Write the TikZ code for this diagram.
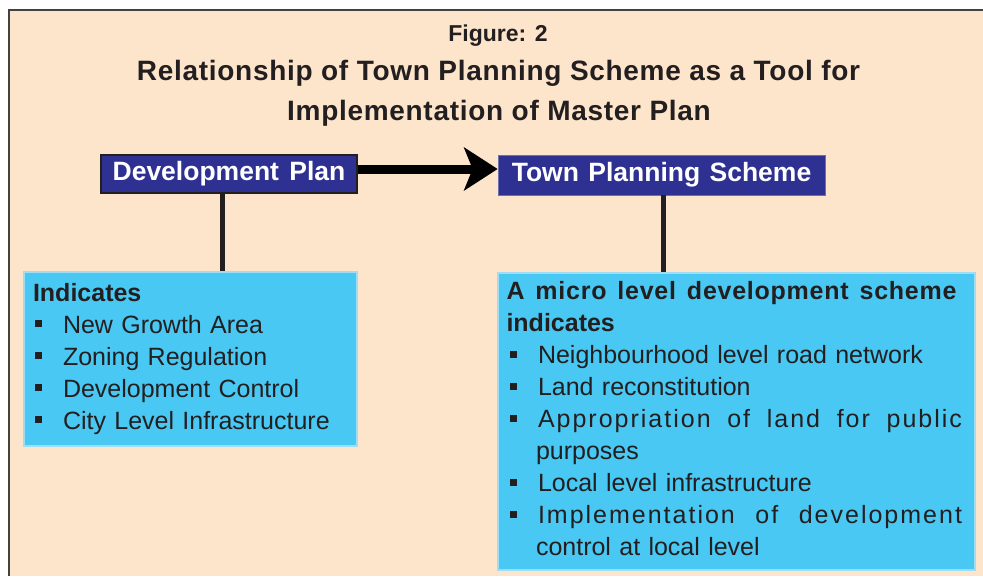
\documentclass[tikz,border=0pt]{standalone}
\usepackage{fontspec}
\setmainfont{Liberation Sans}
\usetikzlibrary{arrows.meta,positioning}
\definecolor{planbeige}{HTML}{FDE5CB}
\definecolor{planblue}{HTML}{2E3192}
\definecolor{plancyan}{HTML}{48C8F2}
\definecolor{cyanedge}{HTML}{9EDDF3}
\definecolor{inkgray}{HTML}{231F20}
\newcommand{\sqbul}{\makebox[30pt][l]{\hspace{2pt}\rule[6pt]{7pt}{7pt}}}
\newcommand{\fullline}[2]{\makebox[#1][l]{#2}}

\begin{document}
\begin{tikzpicture}[x=1pt, y=-1pt,
    headbox/.style={fill=planblue, text=white, inner sep=0pt,
        font=\fontsize{26.5}{30}\selectfont\bfseries},
    listbox/.style={fill=plancyan, draw=cyanedge, line width=1.5pt, text=inkgray,
        align=left, inner ysep=0pt, font=\fontsize{25}{32}\selectfont},
    titletext/.style={anchor=base, text=inkgray,
        font=\fontsize{28}{34}\selectfont\bfseries\addfontfeature{LetterSpace=2.5}},
    stem/.style={draw=inkgray, line width=5pt},
    bigarrow/.style={line width=9pt, -{Stealth[length=34pt, width=44pt, inset=9pt, line width=0pt]}}]
    \useasboundingbox (0,0) rectangle (983,576);

    % frame
    \fill[planbeige] (9,10) rectangle (983,576);
    \draw[inkgray!85, line width=1.5pt] (983,10) -- (9,10) -- (9,576);

    % headings
    \node[titletext, font=\fontsize{23}{26}\selectfont\bfseries] (figno) at (498,41) {Figure: 2};
    \node[titletext] (titleA) at (498.5,80) {Relationship of Town Planning Scheme as a Tool for};
    \node[titletext] (titleB) at (499,120) {Implementation of Master Plan};

    % the two plans
    \node[headbox, draw=inkgray, line width=2pt, minimum width=256pt, minimum height=38pt]
        (devplan) at (229,174) {Development\hspace{3pt} Plan};
    \node[headbox, draw=planblue!70!white, line width=0.8pt, minimum width=327pt, minimum height=40pt]
        (tpscheme) at (661.5,175) {Town\hspace{2pt} Planning\hspace{2pt} Scheme};

    % what each one indicates
    \node[listbox, text width=315pt, inner xsep=9pt, minimum height=174pt] (devlist) at (190.5,359) {%
        \textbf{Indicates}\\
        \sqbul New Growth Area\\
        \sqbul Zoning Regulation\\
        \sqbul Development Control\\
        \sqbul City Level Infrastructure};
    \node[listbox, text width=457pt, inner xsep=10pt, minimum height=297pt] (tpslist) at (736.5,421.5) {%
        \hspace*{-1.5pt}\fullline{450pt}{\bfseries\addfontfeature{LetterSpace=3}A\hfill micro\hfill level\hfill development\hfill scheme}\\
        \hspace*{-1.5pt}\textbf{indicates}\\
        \sqbul Neighbourhood level road network\\
        \sqbul Land reconstitution\\
        \sqbul\fullline{424pt}{\addfontfeature{LetterSpace=8}Appropriation\hfill of\hfill land\hfill for\hfill public}\\
        \hspace*{28pt}purposes\\
        \sqbul Local level infrastructure\\
        \sqbul\fullline{424pt}{\addfontfeature{LetterSpace=8}Implementation\hfill of\hfill development}\\
        \hspace*{28pt}control at local level\vphantom{p}};

    % connectors
    \coordinate (arrfrom) at ([yshift=5pt]devplan.east);
    \draw[bigarrow] (arrfrom) -- (arrfrom -| tpscheme.west);

    \coordinate (devstem) at ([xshift=-7pt]devplan.south);
    \draw[stem] (devstem) -- (devstem |- devlist.north);
    \coordinate (tpsstem) at ([xshift=1.5pt]tpscheme.south);
    \draw[stem] (tpsstem) -- (tpsstem |- tpslist.north);
\end{tikzpicture}
\end{document}
